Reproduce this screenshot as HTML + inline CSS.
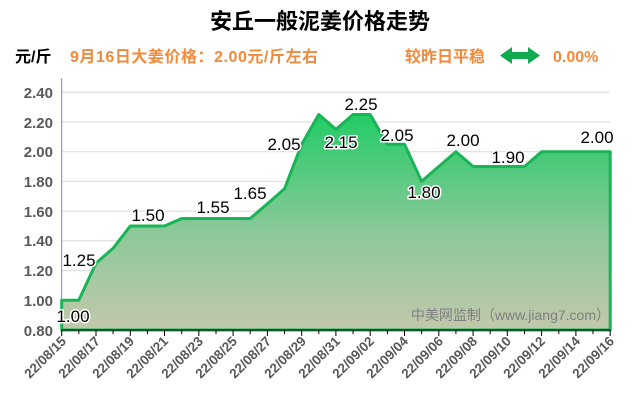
<!DOCTYPE html>
<html><head><meta charset="utf-8"><style>
body{margin:0;background:#fff;width:640px;height:410px;overflow:hidden}
</style></head><body>
<svg width="640" height="410" xmlns="http://www.w3.org/2000/svg" font-family="'Liberation Sans','Noto Sans CJK SC',sans-serif">
<defs>
<linearGradient id="g" x1="0" y1="0" x2="0" y2="1">
<stop offset="0" stop-color="#22cc66"/>
<stop offset="0.55" stop-color="#8cc89a"/>
<stop offset="1" stop-color="#c2c8ac"/>
</linearGradient>
</defs>
<text x="320" y="29" text-anchor="middle" font-size="22" font-weight="bold" fill="#000">安丘一般泥姜价格走势</text>
<text x="15" y="62" font-size="16" font-weight="bold" fill="#000">元/斤</text>
<text x="70" y="62" font-size="16" font-weight="bold" fill="#f08a3c" textLength="248">9月16日大姜价格：2.00元/斤左右</text>
<text x="405" y="62" font-size="16" font-weight="bold" fill="#f08a3c">较昨日平稳</text>
<polygon points="500,55.5 512,47 512,52 528,52 528,47 540,55.5 528,64 528,59 512,59 512,64" fill="#11aa4f"/>
<text x="553" y="62" font-size="16" font-weight="bold" fill="#f08a3c">0.00%</text>
<g stroke="#d9d9d9" stroke-width="1">
<line x1="62" y1="92.3" x2="610" y2="92.3"/><line x1="62" y1="122" x2="610" y2="122"/><line x1="62" y1="151.7" x2="610" y2="151.7"/><line x1="62" y1="181.4" x2="610" y2="181.4"/><line x1="62" y1="211.1" x2="610" y2="211.1"/><line x1="62" y1="240.8" x2="610" y2="240.8"/><line x1="62" y1="270.6" x2="610" y2="270.6"/><line x1="62" y1="300.3" x2="610" y2="300.3"/>
</g>
<line x1="61.7" y1="78" x2="61.7" y2="330" stroke="#6a8fc0" stroke-width="1"/>
<g font-size="15" font-weight="bold" fill="#595959" text-anchor="end">
<text x="53" y="98">2.40</text><text x="53" y="128">2.20</text><text x="53" y="157">2.00</text><text x="53" y="187">1.80</text><text x="53" y="217">1.60</text><text x="53" y="246">1.40</text><text x="53" y="276">1.20</text><text x="53" y="306">1.00</text><text x="53" y="336">0.80</text>
</g>
<polygon fill="url(#g)" stroke="#19b456" stroke-width="3" stroke-linejoin="round" points="61.7,330 61.7,300.3 78.8,300.3 96.0,263.1 113.1,248.3 130.3,226 147.4,226 164.5,226 181.7,218.5 198.8,218.5 216,218.5 233.1,218.5 250.2,218.5 267.4,203.7 284.5,188.8 301.7,144.3 318.8,114.5 335.9,129.4 353.1,114.5 370.2,114.5 387.4,144.3 404.5,144.3 421.6,181.4 438.8,166.5 455.9,151.7 473.1,166.5 490.2,166.5 507.3,166.5 524.5,166.5 541.6,151.7 558.8,151.7 575.9,151.7 593,151.7 610.2,151.7 610.2,330"/>
<line x1="61.7" y1="330" x2="610.2" y2="330" stroke="#000" stroke-width="1"/>
<g stroke="#000" stroke-width="1">
<line x1="61.7" y1="330" x2="61.7" y2="336"/><line x1="78.8" y1="330" x2="78.8" y2="334"/><line x1="96" y1="330" x2="96" y2="336"/><line x1="113.1" y1="330" x2="113.1" y2="334"/><line x1="130.3" y1="330" x2="130.3" y2="336"/><line x1="147.4" y1="330" x2="147.4" y2="334"/><line x1="164.5" y1="330" x2="164.5" y2="336"/><line x1="181.7" y1="330" x2="181.7" y2="334"/><line x1="198.8" y1="330" x2="198.8" y2="336"/><line x1="216" y1="330" x2="216" y2="334"/><line x1="233.1" y1="330" x2="233.1" y2="336"/><line x1="250.2" y1="330" x2="250.2" y2="334"/><line x1="267.4" y1="330" x2="267.4" y2="336"/><line x1="284.5" y1="330" x2="284.5" y2="334"/><line x1="301.7" y1="330" x2="301.7" y2="336"/><line x1="318.8" y1="330" x2="318.8" y2="334"/><line x1="335.9" y1="330" x2="335.9" y2="336"/><line x1="353.1" y1="330" x2="353.1" y2="334"/><line x1="370.2" y1="330" x2="370.2" y2="336"/><line x1="387.4" y1="330" x2="387.4" y2="334"/><line x1="404.5" y1="330" x2="404.5" y2="336"/><line x1="421.6" y1="330" x2="421.6" y2="334"/><line x1="438.8" y1="330" x2="438.8" y2="336"/><line x1="455.9" y1="330" x2="455.9" y2="334"/><line x1="473.1" y1="330" x2="473.1" y2="336"/><line x1="490.2" y1="330" x2="490.2" y2="334"/><line x1="507.3" y1="330" x2="507.3" y2="336"/><line x1="524.5" y1="330" x2="524.5" y2="334"/><line x1="541.6" y1="330" x2="541.6" y2="336"/><line x1="558.8" y1="330" x2="558.8" y2="334"/><line x1="575.9" y1="330" x2="575.9" y2="336"/><line x1="593" y1="330" x2="593" y2="334"/><line x1="610.2" y1="330" x2="610.2" y2="336"/>
</g>
<g font-size="13.5" font-weight="bold" fill="#595959" text-anchor="end">
<text transform="translate(67,342) rotate(-45)">22/08/15</text>
<text transform="translate(101,342) rotate(-45)">22/08/17</text>
<text transform="translate(135,342) rotate(-45)">22/08/19</text>
<text transform="translate(169,342) rotate(-45)">22/08/21</text>
<text transform="translate(204,342) rotate(-45)">22/08/23</text>
<text transform="translate(238,342) rotate(-45)">22/08/25</text>
<text transform="translate(272,342) rotate(-45)">22/08/27</text>
<text transform="translate(307,342) rotate(-45)">22/08/29</text>
<text transform="translate(341,342) rotate(-45)">22/08/31</text>
<text transform="translate(375,342) rotate(-45)">22/09/02</text>
<text transform="translate(409,342) rotate(-45)">22/09/04</text>
<text transform="translate(444,342) rotate(-45)">22/09/06</text>
<text transform="translate(478,342) rotate(-45)">22/09/08</text>
<text transform="translate(512,342) rotate(-45)">22/09/10</text>
<text transform="translate(546,342) rotate(-45)">22/09/12</text>
<text transform="translate(581,342) rotate(-45)">22/09/14</text>
<text transform="translate(615,342) rotate(-45)">22/09/16</text>
</g>
<text x="610" y="320" text-anchor="end" font-size="14" fill="#7f7f7f">中美网监制（www.jiang7.com）</text>
<g font-size="17" fill="#000" text-anchor="middle" stroke="#fff" stroke-width="3" paint-order="stroke" stroke-linejoin="round">
<text x="73" y="322">1.00</text><text x="79" y="266">1.25</text><text x="148" y="221">1.50</text><text x="213" y="213">1.55</text><text x="250" y="199">1.65</text><text x="284" y="150">2.05</text><text x="341" y="148">2.15</text><text x="361" y="110">2.25</text><text x="397" y="141">2.05</text><text x="424" y="198">1.80</text><text x="463" y="146">2.00</text><text x="508" y="163">1.90</text><text x="597" y="143">2.00</text>
</g>
</svg>
</body></html>
